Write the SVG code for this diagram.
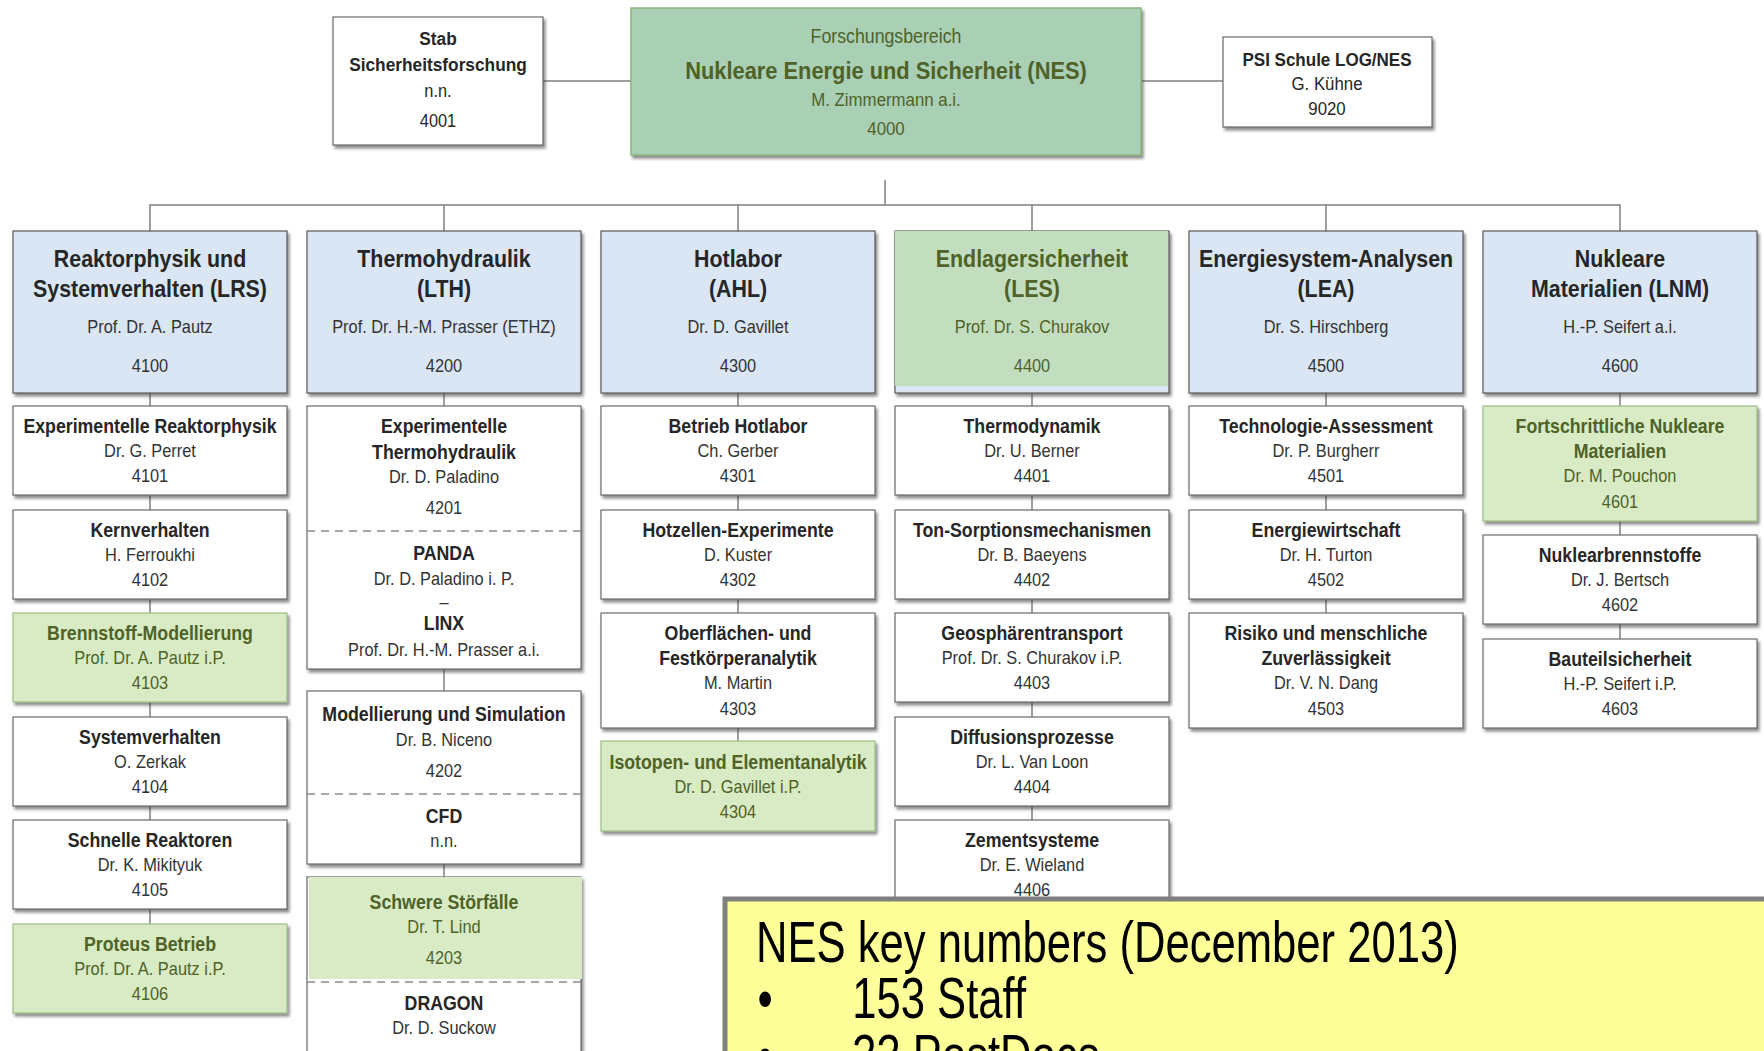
<svg xmlns="http://www.w3.org/2000/svg" width="1764" height="1051" viewBox="0 0 1764 1051">
<defs>
<filter id="sh" x="-5%" y="-5%" width="115%" height="120%">
<feDropShadow dx="2" dy="3" stdDeviation="1.6" flood-color="#404040" flood-opacity="0.6"/>
</filter>
<style>
text{font-family:"Liberation Sans",Arial,sans-serif;text-anchor:middle;dominant-baseline:central;fill:#262626}
.b{font-weight:bold}
.h1{font-size:23.5px;font-weight:bold}
.n1{font-size:18px;fill:#333}
.st{font-size:19.5px;font-weight:bold}
.sn{font-size:18px;fill:#333}
.g text{fill:#4F6228}
.box{fill:#fff;stroke:#6a6a6a;stroke-width:1.2;filter:url(#sh)}
.blue{fill:#DAE6F4;stroke:#595959;stroke-width:1.2;filter:url(#sh)}
.grn{fill:#D8EBC4;stroke:#9DBF86;stroke-width:1.2;filter:url(#sh)}
.dash{stroke:#8c8c8c;stroke-width:1.5;stroke-dasharray:8 6;fill:none}
.con{stroke:#7f7f7f;stroke-width:1.5;fill:none}
.key{text-anchor:start;dominant-baseline:alphabetic;fill:#000;font-size:58px}
</style>
</defs>
<rect width="1764" height="1051" fill="#fff"/>
<g id="connectors">
<line class="con" x1="543" y1="81" x2="631" y2="81"/>
<line class="con" x1="1141" y1="81" x2="1223" y2="81"/>
<line class="con" x1="885" y1="180" x2="885" y2="205"/>
<polyline class="con" points="150,231 150,205 1620,205 1620,231"/>
<line class="con" x1="444" y1="205" x2="444" y2="231"/>
<line class="con" x1="738" y1="205" x2="738" y2="231"/>
<line class="con" x1="1032" y1="205" x2="1032" y2="231"/>
<line class="con" x1="1326" y1="205" x2="1326" y2="231"/>
<line class="con" x1="150" y1="393" x2="150" y2="924"/>
<line class="con" x1="444" y1="393" x2="444" y2="877"/>
<line class="con" x1="738" y1="393" x2="738" y2="741"/>
<line class="con" x1="1032" y1="393" x2="1032" y2="820"/>
<line class="con" x1="1326" y1="393" x2="1326" y2="613"/>
<line class="con" x1="1620" y1="393" x2="1620" y2="639"/>
</g>
<g id="stab">
<rect class="box" x="333" y="17" width="210" height="128"/>
<g transform="translate(438 0) scale(.91 1)">
<text x="0" y="39" class="b" font-size="19">Stab</text>
<text x="0" y="65" class="b" font-size="19">Sicherheitsforschung</text>
<text x="0" y="91" font-size="18" fill="#333">n.n.</text>
<text x="0" y="121" font-size="18" fill="#333">4001</text>
</g>
</g>
<g id="nes" class="g">
<rect x="631" y="8" width="510" height="147" fill="#A9CFB5" stroke="#8DB57A" stroke-width="1.5" filter="url(#sh)"/>
<g transform="translate(886 0) scale(.91 1)">
<text x="0" y="36" font-size="19.5">Forschungsbereich</text>
<text x="0" y="71" class="b" font-size="24">Nukleare Energie und Sicherheit (NES)</text>
<text x="0" y="100" font-size="18.5">M. Zimmermann a.i.</text>
<text x="0" y="129" font-size="18.5">4000</text>
</g>
</g>
<g id="psi">
<rect class="box" x="1223" y="37" width="209" height="90"/>
<g transform="translate(1327 0) scale(.91 1)">
<text x="0" y="60" class="b" font-size="18.7">PSI Schule LOG/NES</text>
<text x="0" y="84" font-size="18.5" fill="#333">G. Kühne</text>
<text x="0" y="109" font-size="18.5" fill="#333">9020</text>
</g>
</g>
<!-- Level 1 -->
<g id="lrs">
<rect class="blue" x="13" y="231" width="274" height="162"/>
<g transform="translate(150 0) scale(.91 1)">
<text x="0" y="259" class="h1">Reaktorphysik und</text>
<text x="0" y="289" class="h1">Systemverhalten (LRS)</text>
<text x="0" y="327" class="n1">Prof. Dr. A. Pautz</text>
<text x="0" y="366" class="n1">4100</text>
</g>
</g>
<g id="lth">
<rect class="blue" x="307" y="231" width="274" height="162"/>
<g transform="translate(444 0) scale(.91 1)">
<text x="0" y="259" class="h1">Thermohydraulik</text>
<text x="0" y="289" class="h1">(LTH)</text>
<text x="0" y="327" class="n1">Prof. Dr. H.-M. Prasser (ETHZ)</text>
<text x="0" y="366" class="n1">4200</text>
</g>
</g>
<g id="ahl">
<rect class="blue" x="601" y="231" width="274" height="162"/>
<g transform="translate(738 0) scale(.91 1)">
<text x="0" y="259" class="h1">Hotlabor</text>
<text x="0" y="289" class="h1">(AHL)</text>
<text x="0" y="327" class="n1">Dr. D. Gavillet</text>
<text x="0" y="366" class="n1">4300</text>
</g>
</g>
<g id="les" class="g">
<rect class="blue" x="895" y="231" width="274" height="162"/>
<rect x="895" y="231" width="273" height="155" fill="#C3DEBE"/>
<g transform="translate(1032 0) scale(.91 1)">
<text x="0" y="259" class="h1">Endlagersicherheit</text>
<text x="0" y="289" class="h1">(LES)</text>
<text x="0" y="327" class="n1" style="fill:#4F6228">Prof. Dr. S. Churakov</text>
<text x="0" y="366" class="n1" style="fill:#4F6228">4400</text>
</g>
</g>
<g id="lea">
<rect class="blue" x="1189" y="231" width="274" height="162"/>
<g transform="translate(1326 0) scale(.91 1)">
<text x="0" y="259" class="h1">Energiesystem-Analysen</text>
<text x="0" y="289" class="h1">(LEA)</text>
<text x="0" y="327" class="n1">Dr. S. Hirschberg</text>
<text x="0" y="366" class="n1">4500</text>
</g>
</g>
<g id="lnm">
<rect class="blue" x="1483" y="231" width="274" height="162"/>
<g transform="translate(1620 0) scale(.91 1)">
<text x="0" y="259" class="h1">Nukleare</text>
<text x="0" y="289" class="h1">Materialien (LNM)</text>
<text x="0" y="327" class="n1">H.-P. Seifert a.i.</text>
<text x="0" y="366" class="n1">4600</text>
</g>
</g>
<!-- Column 1 -->
<g id="u4101">
<rect class="box" x="13" y="406" width="274" height="89"/>
<g transform="translate(150 0) scale(.91 1)">
<text x="0" y="426" class="st">Experimentelle Reaktorphysik</text>
<text x="0" y="451" class="sn">Dr. G. Perret</text>
<text x="0" y="476" class="sn">4101</text>
</g>
</g>
<g id="u4102">
<rect class="box" x="13" y="510" width="274" height="89"/>
<g transform="translate(150 0) scale(.91 1)">
<text x="0" y="530" class="st">Kernverhalten</text>
<text x="0" y="555" class="sn">H. Ferroukhi</text>
<text x="0" y="580" class="sn">4102</text>
</g>
</g>
<g id="u4103" class="g">
<rect class="grn" x="13" y="613" width="274" height="89"/>
<g transform="translate(150 0) scale(.91 1)">
<text x="0" y="633" class="st">Brennstoff-Modellierung</text>
<text x="0" y="658" class="sn" style="fill:#4F6228">Prof. Dr. A. Pautz i.P.</text>
<text x="0" y="683" class="sn" style="fill:#4F6228">4103</text>
</g>
</g>
<g id="u4104">
<rect class="box" x="13" y="717" width="274" height="89"/>
<g transform="translate(150 0) scale(.91 1)">
<text x="0" y="737" class="st">Systemverhalten</text>
<text x="0" y="762" class="sn">O. Zerkak</text>
<text x="0" y="787" class="sn">4104</text>
</g>
</g>
<g id="u4105">
<rect class="box" x="13" y="820" width="274" height="89"/>
<g transform="translate(150 0) scale(.91 1)">
<text x="0" y="840" class="st">Schnelle Reaktoren</text>
<text x="0" y="865" class="sn">Dr. K. Mikityuk</text>
<text x="0" y="890" class="sn">4105</text>
</g>
</g>
<g id="u4106" class="g">
<rect class="grn" x="13" y="924" width="274" height="89"/>
<g transform="translate(150 0) scale(.91 1)">
<text x="0" y="944" class="st">Proteus Betrieb</text>
<text x="0" y="969" class="sn" style="fill:#4F6228">Prof. Dr. A. Pautz i.P.</text>
<text x="0" y="994" class="sn" style="fill:#4F6228">4106</text>
</g>
</g>
<!-- Column 2 -->
<g id="u4201">
<rect class="box" x="307" y="406" width="274" height="263"/>
<line class="dash" x1="307" y1="531" x2="581" y2="531"/>
<g transform="translate(444 0) scale(.91 1)">
<text x="0" y="426" class="st">Experimentelle</text>
<text x="0" y="452" class="st">Thermohydraulik</text>
<text x="0" y="477" class="sn">Dr. D. Paladino</text>
<text x="0" y="508" class="sn">4201</text>
<text x="0" y="553" class="st">PANDA</text>
<text x="0" y="579" class="sn">Dr. D. Paladino i. P.</text>
<text x="0" y="602" class="sn">–</text>
<text x="0" y="623" class="st">LINX</text>
<text x="0" y="650" class="sn">Prof. Dr. H.-M. Prasser a.i.</text>
</g>
</g>
<g id="u4202">
<rect class="box" x="307" y="691" width="274" height="173"/>
<line class="dash" x1="307" y1="794" x2="581" y2="794"/>
<g transform="translate(444 0) scale(.91 1)">
<text x="0" y="714" class="st">Modellierung und Simulation</text>
<text x="0" y="740" class="sn">Dr. B. Niceno</text>
<text x="0" y="771" class="sn">4202</text>
<text x="0" y="816" class="st">CFD</text>
<text x="0" y="841" class="sn">n.n.</text>
</g>
</g>
<g id="u4203">
<rect class="box" x="307" y="877" width="274" height="190"/>
<rect x="309" y="877" width="273" height="102" fill="#D8EBC4"/>
<line class="dash" x1="307" y1="982" x2="581" y2="982"/>
<g transform="translate(444 0) scale(.91 1)">
<text x="0" y="902" class="st" style="fill:#4F6228">Schwere Störfälle</text>
<text x="0" y="927" class="sn" style="fill:#4F6228">Dr. T. Lind</text>
<text x="0" y="958" class="sn" style="fill:#4F6228">4203</text>
<text x="0" y="1003" class="st">DRAGON</text>
<text x="0" y="1028" class="sn">Dr. D. Suckow</text>
</g>
</g>
<!-- Column 3 -->
<g id="u4301">
<rect class="box" x="601" y="406" width="274" height="89"/>
<g transform="translate(738 0) scale(.91 1)">
<text x="0" y="426" class="st">Betrieb Hotlabor</text>
<text x="0" y="451" class="sn">Ch. Gerber</text>
<text x="0" y="476" class="sn">4301</text>
</g>
</g>
<g id="u4302">
<rect class="box" x="601" y="510" width="274" height="89"/>
<g transform="translate(738 0) scale(.91 1)">
<text x="0" y="530" class="st">Hotzellen-Experimente</text>
<text x="0" y="555" class="sn">D. Kuster</text>
<text x="0" y="580" class="sn">4302</text>
</g>
</g>
<g id="u4303">
<rect class="box" x="601" y="613" width="274" height="115"/>
<g transform="translate(738 0) scale(.91 1)">
<text x="0" y="633" class="st">Oberflächen- und</text>
<text x="0" y="658" class="st">Festkörperanalytik</text>
<text x="0" y="683" class="sn">M. Martin</text>
<text x="0" y="709" class="sn">4303</text>
</g>
</g>
<g id="u4304" class="g">
<rect class="grn" x="601" y="741" width="274" height="90"/>
<g transform="translate(738 0) scale(.91 1)">
<text x="0" y="762" class="st">Isotopen- und Elementanalytik</text>
<text x="0" y="787" class="sn" style="fill:#4F6228">Dr. D. Gavillet i.P.</text>
<text x="0" y="812" class="sn" style="fill:#4F6228">4304</text>
</g>
</g>
<!-- Column 4 -->
<g id="u4401">
<rect class="box" x="895" y="406" width="274" height="89"/>
<g transform="translate(1032 0) scale(.91 1)">
<text x="0" y="426" class="st">Thermodynamik</text>
<text x="0" y="451" class="sn">Dr. U. Berner</text>
<text x="0" y="476" class="sn">4401</text>
</g>
</g>
<g id="u4402">
<rect class="box" x="895" y="510" width="274" height="89"/>
<g transform="translate(1032 0) scale(.91 1)">
<text x="0" y="530" class="st">Ton-Sorptionsmechanismen</text>
<text x="0" y="555" class="sn">Dr. B. Baeyens</text>
<text x="0" y="580" class="sn">4402</text>
</g>
</g>
<g id="u4403">
<rect class="box" x="895" y="613" width="274" height="89"/>
<g transform="translate(1032 0) scale(.91 1)">
<text x="0" y="633" class="st">Geosphärentransport</text>
<text x="0" y="658" class="sn">Prof. Dr. S. Churakov i.P.</text>
<text x="0" y="683" class="sn">4403</text>
</g>
</g>
<g id="u4404">
<rect class="box" x="895" y="717" width="274" height="89"/>
<g transform="translate(1032 0) scale(.91 1)">
<text x="0" y="737" class="st">Diffusionsprozesse</text>
<text x="0" y="762" class="sn">Dr. L. Van Loon</text>
<text x="0" y="787" class="sn">4404</text>
</g>
</g>
<g id="u4406">
<rect class="box" x="895" y="820" width="274" height="89"/>
<g transform="translate(1032 0) scale(.91 1)">
<text x="0" y="840" class="st">Zementsysteme</text>
<text x="0" y="865" class="sn">Dr. E. Wieland</text>
<text x="0" y="890" class="sn">4406</text>
</g>
</g>
<!-- Column 5 -->
<g id="u4501">
<rect class="box" x="1189" y="406" width="274" height="89"/>
<g transform="translate(1326 0) scale(.91 1)">
<text x="0" y="426" class="st">Technologie-Assessment</text>
<text x="0" y="451" class="sn">Dr. P. Burgherr</text>
<text x="0" y="476" class="sn">4501</text>
</g>
</g>
<g id="u4502">
<rect class="box" x="1189" y="510" width="274" height="89"/>
<g transform="translate(1326 0) scale(.91 1)">
<text x="0" y="530" class="st">Energiewirtschaft</text>
<text x="0" y="555" class="sn">Dr. H. Turton</text>
<text x="0" y="580" class="sn">4502</text>
</g>
</g>
<g id="u4503">
<rect class="box" x="1189" y="613" width="274" height="115"/>
<g transform="translate(1326 0) scale(.91 1)">
<text x="0" y="633" class="st">Risiko und menschliche</text>
<text x="0" y="658" class="st">Zuverlässigkeit</text>
<text x="0" y="683" class="sn">Dr. V. N. Dang</text>
<text x="0" y="709" class="sn">4503</text>
</g>
</g>
<!-- Column 6 -->
<g id="u4601" class="g">
<rect class="grn" x="1483" y="406" width="274" height="115"/>
<g transform="translate(1620 0) scale(.91 1)">
<text x="0" y="426" class="st">Fortschrittliche Nukleare</text>
<text x="0" y="451" class="st">Materialien</text>
<text x="0" y="476" class="sn" style="fill:#4F6228">Dr. M. Pouchon</text>
<text x="0" y="502" class="sn" style="fill:#4F6228">4601</text>
</g>
</g>
<g id="u4602">
<rect class="box" x="1483" y="535" width="274" height="89"/>
<g transform="translate(1620 0) scale(.91 1)">
<text x="0" y="555" class="st">Nuklearbrennstoffe</text>
<text x="0" y="580" class="sn">Dr. J. Bertsch</text>
<text x="0" y="605" class="sn">4602</text>
</g>
</g>
<g id="u4603">
<rect class="box" x="1483" y="639" width="274" height="89"/>
<g transform="translate(1620 0) scale(.91 1)">
<text x="0" y="659" class="st">Bauteilsicherheit</text>
<text x="0" y="684" class="sn">H.-P. Seifert i.P.</text>
<text x="0" y="709" class="sn">4603</text>
</g>
</g>
<!-- Key numbers overlay -->
<g id="keynumbers">
<rect x="725" y="899" width="1100" height="250" fill="#FFFF99" stroke="#7f7f7f" stroke-width="5"/>
<g transform="translate(756 0) scale(.752 1)">
<text class="key" x="0" y="962">NES key numbers (December 2013)</text>
<text class="key" x="2" y="1018">•</text>
<text class="key" x="128" y="1018">153 Staff</text>
<text class="key" x="2" y="1075">•</text>
<text class="key" x="128" y="1075">33 PostDocs</text>
</g>
</g>
</svg>
